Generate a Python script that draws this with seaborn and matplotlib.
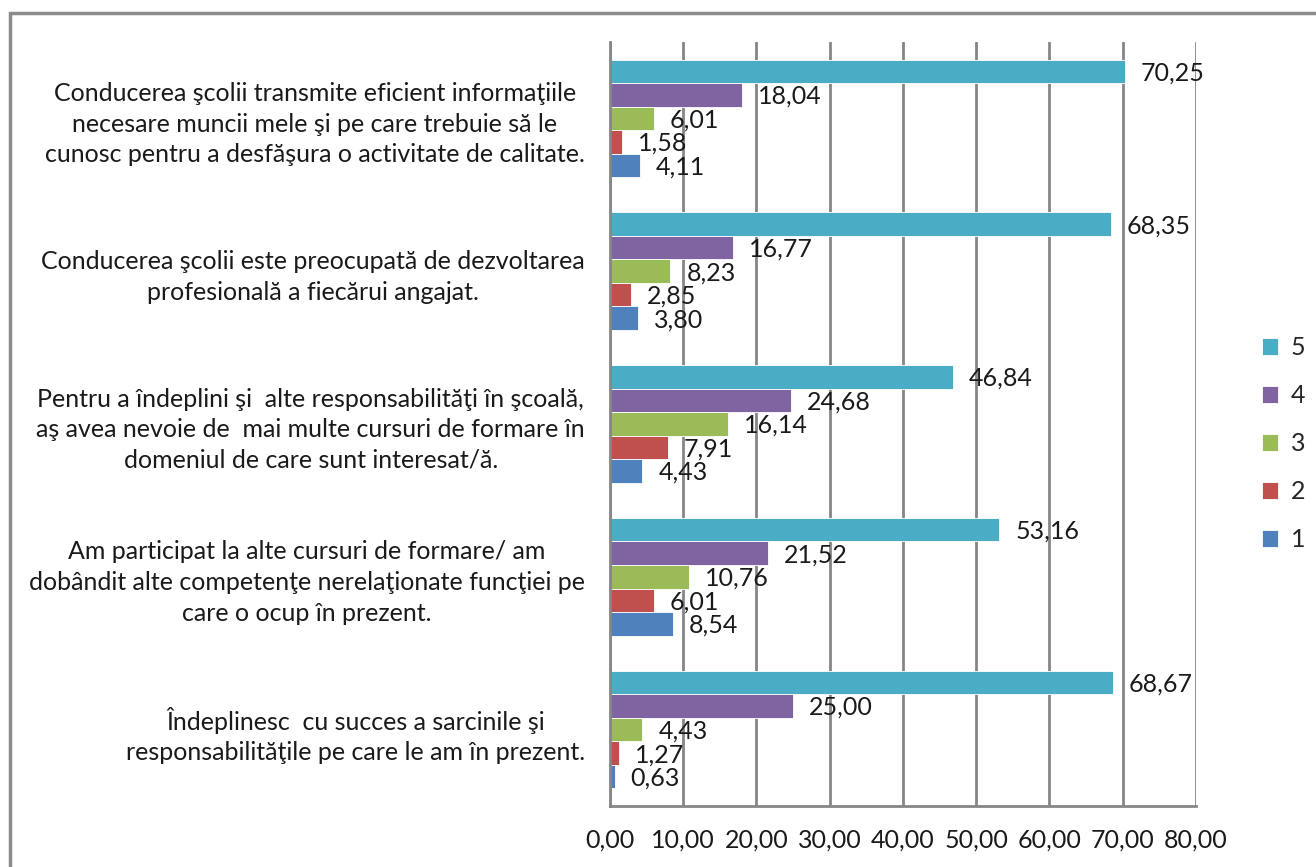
import pandas as pd
import matplotlib.pyplot as plt
import seaborn as sns
from matplotlib.patches import Rectangle

# categories, top to bottom
categories = [
    "Conducerea şcolii transmite eficient informaţiile\nnecesare muncii mele şi pe care trebuie să le\ncunosc pentru a desfăşura o activitate de calitate.",
    "Conducerea şcolii este preocupată de dezvoltarea\nprofesională a fiecărui angajat.",
    "Pentru a îndeplini şi  alte responsabilităţi în şcoală,\naş avea nevoie de  mai multe cursuri de formare în\ndomeniul de care sunt interesat/ă.",
    "Am participat la alte cursuri de formare/ am\ndobândit alte competenţe nerelaţionate funcţiei pe\ncare o ocup în prezent.",
    "Îndeplinesc  cu succes a sarcinile şi\nresponsabilităţile pe care le am în prezent.",
]

series_names = ["5", "4", "3", "2", "1"]
vals_5 = [70.25, 68.35, 46.84, 53.16, 68.67]
vals_4 = [18.04, 16.77, 24.68, 21.52, 25.00]
vals_3 = [6.01, 8.23, 16.14, 10.76, 4.43]
vals_2 = [1.58, 2.85, 7.91, 6.01, 1.27]
vals_1 = [4.11, 3.80, 4.43, 8.54, 0.63]

colors = ["#4BACC6", "#8064A2", "#9BBB59", "#C0504D", "#4F81BD"]
x_ticks = [0, 10, 20, 30, 40, 50, 60, 70, 80]

rows = []
for name, vals in zip(series_names, [vals_5, vals_4, vals_3, vals_2, vals_1]):
    for cat, v in zip(categories, vals):
        rows.append({"cat": cat, "serie": name, "val": v})
df = pd.DataFrame(rows)

sns.set_style("white")
plt.rcParams["font.family"] = ["Lato", "DejaVu Sans"]
grid_col = "#868686"
fs = 18

fig = plt.figure(figsize=(13.16, 8.67), dpi=100)
ax = fig.add_axes([0.4635, 0.0704, 0.9088 - 0.4635, 0.9516 - 0.0704])

sns.barplot(data=df, y="cat", x="val", hue="serie", order=categories,
            hue_order=series_names, palette=colors, width=0.77,
            orient="h", ax=ax, legend=True, saturation=1,
            edgecolor="white", linewidth=0.6)

# value labels
for cont in ax.containers:
    for bar in cont:
        w = bar.get_width()
        y = bar.get_y() + bar.get_height() / 2
        ax.text(w + 2.2, y + 0.01, f"{w:.2f}".replace(".", ","), va="center",
                ha="left", fontsize=fs, color="#1a1a1a")

ax.set_xlim(0, 80)
ax.set_ylim(4.5, -0.5)
ax.set_xticks(x_ticks)
ax.set_xticklabels([f"{t:.2f}".replace(".", ",") for t in x_ticks], fontsize=fs)
ax.set_xlabel("")
ax.set_ylabel("")
ax.xaxis.grid(True, color=grid_col, linewidth=2)
ax.set_axisbelow(True)

for side in ["top", "right"]:
    ax.spines[side].set_visible(False)
for side in ["left", "bottom"]:
    ax.spines[side].set_color(grid_col)
    ax.spines[side].set_linewidth(2)

ax.tick_params(axis="x", direction="out", length=8, width=2, color=grid_col,
               pad=8, labelcolor="#1a1a1a")
ax.tick_params(axis="y", length=0, pad=18, labelsize=fs, labelcolor="#1a1a1a")
ax.set_yticks([-0.5, 0.5, 1.5, 2.5, 3.5, 4.5], minor=True)
ax.tick_params(axis="y", which="minor", direction="out", length=9, width=2,
               color=grid_col)
for lbl in ax.get_yticklabels():
    lbl.set_multialignment("center")
    lbl.set_linespacing(1.4)

handles, labels = ax.get_legend_handles_labels()
ax.legend(handles, labels, loc="center left", bbox_to_anchor=(1.074, 0.474),
          frameon=False, fontsize=fs, handlelength=0.65, handleheight=0.65,
          labelspacing=1.0, handletextpad=0.5)

fig.patches.append(Rectangle((10 / 1316, -0.1), 1.1, 1.1 - 13 / 867,
                             transform=fig.transFigure, fill=False,
                             edgecolor="#8c8c8c", linewidth=2.5))

fig.savefig("out.png", dpi=100)
